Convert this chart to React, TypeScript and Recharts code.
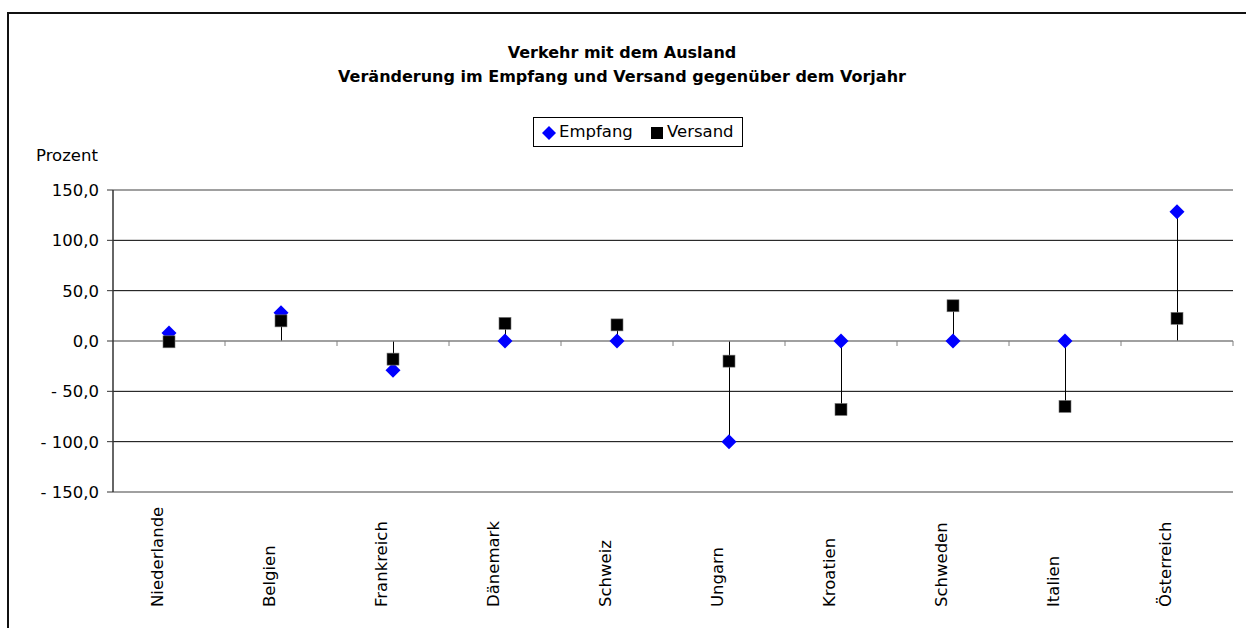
import {
  ComposedChart,
  Bar,
  Line,
  XAxis,
  YAxis,
  CartesianGrid,
  ReferenceLine,
} from "recharts"

const categories = [
  "Niederlande",
  "Belgien",
  "Frankreich",
  "Dänemark",
  "Schweiz",
  "Ungarn",
  "Kroatien",
  "Schweden",
  "Italien",
  "Österreich",
]

const empfang = [8, 28, -29, 0, 0, -100, 0, 0, 0, 128.5]
const versand = [-0.8, 20, -18, 17.5, 16, -20, -68, 35, -65, 22.5]

const yTicks = [150, 100, 50, 0, -50, -100, -150]
const gridValues = [100, 50, -50, -100]

const BLUE = "#0000ff"
const FONT = "'DejaVu Sans', sans-serif"

const data = categories.map((name, i) => ({
  name,
  empfang: empfang[i],
  versand: versand[i],
  range: [
    Math.min(0, empfang[i], versand[i]),
    Math.max(0, empfang[i], versand[i]),
  ],
}))

const fmt = (v: number) =>
  (v < 0 ? "- " : "") + Math.abs(v).toFixed(1).replace(".", ",")

const Diamond = (p: any) => {
  const { cx, cy } = p
  if (cx == null || cy == null) return <g key={p.index} />
  return (
    <path
      key={p.index}
      d={`M${cx},${cy - 7.5}L${cx + 7.5},${cy}L${cx},${cy + 7.5}L${cx - 7.5},${cy}Z`}
      fill={BLUE}
    />
  )
}

const Square = (p: any) => {
  const { cx, cy } = p
  if (cx == null || cy == null) return <g key={p.index} />
  return (
    <rect
      key={p.index}
      x={cx - 6}
      y={cy - 6}
      width={12}
      height={12}
      fill="#000"
      stroke="#777"
      strokeWidth={0.6}
    />
  )
}

const CategoryTick = (p: any) => {
  const { x, payload } = p
  return (
    <g transform={`translate(${x - 6}, 607) rotate(-90)`}>
      <text
        x={0}
        y={0}
        textAnchor="start"
        fontSize={16.5}
        fontFamily={FONT}
        fill="#000"
      >
        {payload.value}
      </text>
    </g>
  )
}

const ZeroLine = (p: any) => {
  const { x1, y1, x2 } = p
  const n = categories.length
  const ticks = []
  for (let k = 1; k <= n; k++) {
    const tx = x1 + ((x2 - x1) * k) / n
    ticks.push(
      <line key={k} x1={tx} y1={y1} x2={tx} y2={y1 + 5} stroke="#808080" strokeWidth={1} />
    )
  }
  return (
    <g>
      <line x1={x1} y1={y1} x2={x2} y2={y1} stroke="#808080" strokeWidth={1.5} />
      {ticks}
    </g>
  )
}

const RangeStick = (p: any) => {
  const { x, y, width, height } = p
  const cx = x + width / 2
  return <line x1={cx} y1={y} x2={cx} y2={y + height} stroke="#000" strokeWidth={1} />
}

export default function App() {
  return (
    <div
      style={{
        position: "relative",
        width: 1246,
        height: 628,
        overflow: "hidden",
        background: "#fff",
        fontFamily: FONT,
      }}
    >
      <style>{`body{margin:0}`}</style>

      <div
        style={{
          position: "absolute",
          left: 7,
          top: 12,
          width: 1300,
          height: 700,
          border: "2px solid #111",
        }}
      />

      <div
        style={{
          position: "absolute",
          left: 0,
          top: 43,
          width: 1244,
          textAlign: "center",
          fontWeight: "bold",
          fontSize: 16,
          lineHeight: "20px",
        }}
      >
        Verkehr mit dem Ausland
      </div>
      <div
        style={{
          position: "absolute",
          left: 0,
          top: 67,
          width: 1244,
          textAlign: "center",
          fontWeight: "bold",
          fontSize: 16,
          lineHeight: "20px",
        }}
      >
        Veränderung im Empfang und Versand gegenüber dem Vorjahr
      </div>

      <div
        style={{
          position: "absolute",
          left: 533,
          top: 117,
          width: 208,
          height: 28,
          border: "1px solid #000",
          fontSize: 16.5,
          lineHeight: "28px",
        }}
      >
        <svg
          width={16}
          height={16}
          style={{ position: "absolute", left: 7, top: 7 }}
        >
          <path d="M8,1L15,8L8,15L1,8Z" fill={BLUE} />
        </svg>
        <span style={{ position: "absolute", left: 25 }}>Empfang</span>
        <svg
          width={12}
          height={12}
          style={{ position: "absolute", left: 117, top: 9 }}
        >
          <rect x={0} y={0} width={12} height={12} fill="#000" />
        </svg>
        <span style={{ position: "absolute", left: 133 }}>Versand</span>
      </div>

      <div
        style={{
          position: "absolute",
          left: 36,
          top: 146,
          fontSize: 16.5,
          lineHeight: "20px",
        }}
      >
        Prozent
      </div>

      <div style={{ position: "absolute", left: 0, top: 0 }}>
        <ComposedChart
          width={1246}
          height={628}
          data={data}
          margin={{ top: 190, right: 13, bottom: 0, left: 0 }}
        >
          <CartesianGrid
            vertical={false}
            horizontalValues={gridValues}
            stroke="#000"
            strokeWidth={1}
          />

          <XAxis
            dataKey="name"
            height={136}
            interval={0}
            tickLine={false}
            axisLine={{ stroke: "#808080", strokeWidth: 1.5 }}
            tick={<CategoryTick />}
          />

          <YAxis
            width={113}
            domain={[-150, 150]}
            ticks={yTicks}
            interval={0}
            tickFormatter={fmt}
            tickSize={6}
            tickMargin={8}
            axisLine={{ stroke: "#333", strokeWidth: 1.5 }}
            tickLine={{ stroke: "#333" }}
            tick={{ fill: "#000", fontSize: 16.5, fontFamily: FONT }}
          />

          <YAxis
            yAxisId="r"
            orientation="right"
            width={0}
            domain={[-150, 150]}
            tick={false}
            tickLine={false}
            axisLine={{ stroke: "#808080", strokeWidth: 1.5 }}
          />

          <ReferenceLine y={150} stroke="#808080" strokeWidth={1.5} />
          <ReferenceLine y={0} shape={ZeroLine} />

          <Bar
            dataKey="range"
            barSize={1}
            shape={RangeStick}
            isAnimationActive={false}
          />

          <Line
            dataKey="empfang"
            stroke="none"
            dot={Diamond}
            activeDot={false}
            isAnimationActive={false}
          />
          <Line
            dataKey="versand"
            stroke="none"
            dot={Square}
            activeDot={false}
            isAnimationActive={false}
          />
        </ComposedChart>
      </div>
    </div>
  )
}
